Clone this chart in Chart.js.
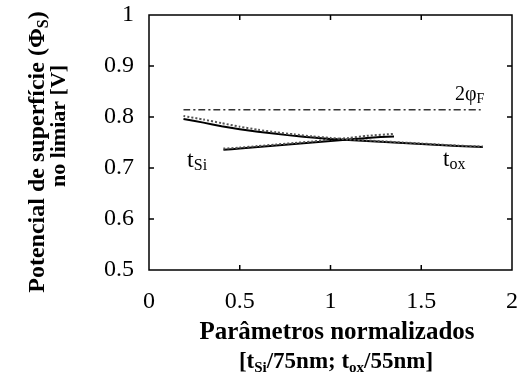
<!DOCTYPE html>
<html>
<head>
<meta charset="utf-8">
<script src="https://cdn.jsdelivr.net/npm/chart.js@4.4.1/dist/chart.umd.min.js"></script>
<style>
  html, body { margin: 0; padding: 0; background: #fff; }
  #wrap { width: 518px; height: 380px; }
</style>
</head>
<body>
<div id="wrap"><canvas id="chart" width="518" height="380"></canvas></div>
<script>
// x = normalized parameter, y = surface potential at threshold [V]
var toxX      = [0.19, 0.3, 0.4, 0.5, 0.6, 0.7, 0.8, 0.9, 1.0, 1.1, 1.2, 1.3, 1.4, 1.5, 1.6, 1.7, 1.84];
var toxSolid  = [0.796, 0.789, 0.782, 0.776, 0.771, 0.767, 0.763, 0.760, 0.757, 0.755, 0.753, 0.751, 0.749, 0.747, 0.745, 0.743, 0.741];
var toxDotted = [0.802, 0.795, 0.788, 0.781, 0.775, 0.770, 0.766, 0.762, 0.759, 0.756, 0.754, 0.752, 0.750, 0.748, 0.746, 0.744, 0.742];

var tsiX      = [0.41, 0.5, 0.6, 0.7, 0.8, 0.9, 1.0, 1.1, 1.2, 1.35];
var tsiSolid  = [0.736, 0.738, 0.741, 0.744, 0.747, 0.750, 0.753, 0.756, 0.759, 0.762];
var tsiDotted = [0.738, 0.740, 0.743, 0.746, 0.749, 0.752, 0.756, 0.759, 0.763, 0.767];

var phiX = [0.19, 1.84];
var phiY = [0.814, 0.814];

var xTicks = [0, 0.5, 1, 1.5, 2];
var yTicks = [0.5, 0.6, 0.7, 0.8, 0.9, 1];

// curve labels: [parts, x, y] in data units
var curveLabels = [
    [[['t', 24, 0], ['Si', 16, 3]], 0.21, 0.702],
    [[['t', 23, 0], ['ox', 16, 3]], 1.62, 0.704],
    [[['2\u03c6', 20, 0], ['F', 14, 3]], 1.686, 0.833]
];

function pts(xs, ys) {
    return xs.map(function (x, i) { return {x: x, y: ys[i]}; });
}

var SERIF = '"Liberation Serif", "Times New Roman", serif';

function richWidth(ctx, parts, weight) {
    var w = 0;
    parts.forEach(function (p) {
        ctx.font = weight + ' ' + p[1] + 'px ' + SERIF;
        w += ctx.measureText(p[0]).width;
    });
    return w;
}

function drawRich(ctx, parts, x, y, weight, align) {
    var w = richWidth(ctx, parts, weight);
    var cx = align === 'center' ? x - w / 2 : x;
    ctx.textBaseline = 'alphabetic';
    ctx.textAlign = 'left';
    parts.forEach(function (p) {
        ctx.font = weight + ' ' + p[1] + 'px ' + SERIF;
        ctx.fillText(p[0], cx, y + p[2]);
        cx += ctx.measureText(p[0]).width;
    });
}

var framePlugin = {
    id: 'frame',
    afterDraw: function (chart) {
        var ctx = chart.ctx, a = chart.chartArea;
        var xs = chart.scales.x, ys = chart.scales.y;
        ctx.save();
        ctx.strokeStyle = '#000';
        ctx.lineWidth = 1.5;
        ctx.strokeRect(a.left, a.top, a.right - a.left, a.bottom - a.top);
        ctx.beginPath();
        xTicks.slice(1, -1).forEach(function (v) {
            var px = xs.getPixelForValue(v);
            ctx.moveTo(px, a.bottom); ctx.lineTo(px, a.bottom - 5);
            ctx.moveTo(px, a.top); ctx.lineTo(px, a.top + 5);
        });
        yTicks.slice(1, -1).forEach(function (v) {
            var py = ys.getPixelForValue(v);
            ctx.moveTo(a.left, py); ctx.lineTo(a.left + 5, py);
            ctx.moveTo(a.right, py); ctx.lineTo(a.right - 5, py);
        });
        ctx.stroke();

        ctx.fillStyle = '#000';
        curveLabels.forEach(function (l) {
            drawRich(ctx, l[0], xs.getPixelForValue(l[1]), ys.getPixelForValue(l[2]), 'normal', 'left');
        });

        // axis titles
        drawRich(ctx, [['Par\u00e2metros normalizados', 25, 0]], 337, 339, 'bold', 'center');
        drawRich(ctx, [['[t', 23, 0], ['Si', 15, 4], ['/75nm; t', 23, 0], ['ox', 15, 4], ['/55nm]', 23, 0]],
            336, 368, 'bold', 'center');

        ctx.save();
        ctx.translate(44, 152);
        ctx.rotate(-Math.PI / 2);
        drawRich(ctx, [['Potencial de superf\u00edcie (\u03a6', 24, 0], ['S', 16, 4], [')', 24, 0]], 0, 0, 'bold', 'center');
        ctx.restore();
        ctx.save();
        ctx.translate(65, 126);
        ctx.rotate(-Math.PI / 2);
        drawRich(ctx, [['no limiar [V]', 22, 0]], 0, 0, 'bold', 'center');
        ctx.restore();
        ctx.restore();
    }
};

var config = {
    type: 'line',
    data: {
        datasets: [{
            label: '2phiF',
            data: pts(phiX, phiY),
            borderColor: '#333',
            borderWidth: 1.5,
            borderDash: [7, 3, 2, 3]
        }, {
            label: 'tox dotted',
            data: pts(toxX, toxDotted),
            borderColor: '#555',
            borderWidth: 2,
            borderDash: [2, 2]
        }, {
            label: 'tox',
            data: pts(toxX, toxSolid),
            borderColor: '#000',
            borderWidth: 2
        }, {
            label: 'tsi dotted',
            data: pts(tsiX, tsiDotted),
            borderColor: '#555',
            borderWidth: 2,
            borderDash: [2, 2]
        }, {
            label: 'tsi',
            data: pts(tsiX, tsiSolid),
            borderColor: '#000',
            borderWidth: 2
        }]
    },
    options: {
        responsive: false,
        animation: false,
        elements: { point: { radius: 0 }, line: { tension: 0.2 } },
        layout: { padding: { top: 15, right: 6, left: 0, bottom: 0 } },
        plugins: { legend: { display: false }, tooltip: { enabled: false } },
        scales: {
            x: {
                type: 'linear',
                min: 0,
                max: 2,
                afterBuildTicks: function (s) { s.ticks = xTicks.map(function (v) { return {value: v}; }); },
                afterFit: function (s) { s.height = 110; s.paddingLeft = 0; s.paddingRight = 0; },
                grid: { display: false, drawTicks: false },
                border: { display: false },
                ticks: {
                    padding: 17,
                    color: '#000',
                    font: { family: SERIF, size: 24 },
                    maxRotation: 0,
                    callback: function (v) { return String(Math.round(v * 10) / 10); }
                }
            },
            y: {
                min: 0.5,
                max: 1,
                afterBuildTicks: function (s) { s.ticks = yTicks.map(function (v) { return {value: v}; }); },
                afterFit: function (s) { s.width = 149; s.paddingTop = 0; s.paddingBottom = 0; },
                grid: { display: false, drawTicks: false },
                border: { display: false },
                ticks: {
                    padding: 15,
                    color: '#000',
                    font: { family: SERIF, size: 24 },
                    callback: function (v) { return String(Math.round(v * 10) / 10); }
                }
            }
        }
    },
    plugins: [framePlugin]
};

window.onload = function () {
    var ctx = document.getElementById('chart').getContext('2d');
    window.myChart = new Chart(ctx, config);
};
</script>
</body>
</html>
